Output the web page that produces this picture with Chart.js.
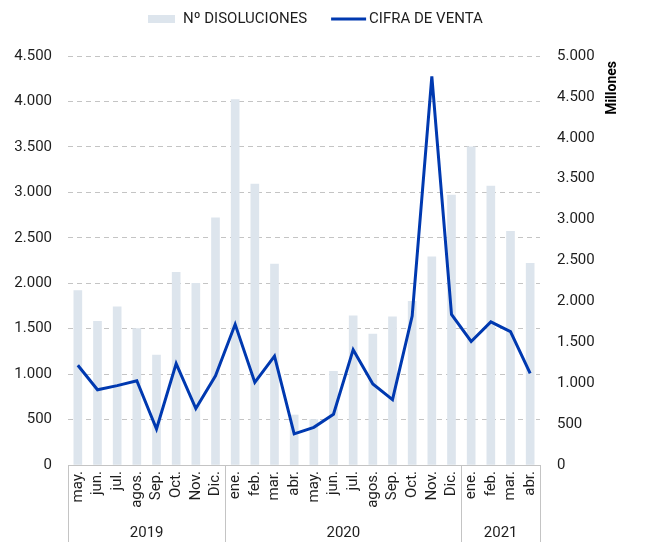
<!DOCTYPE html>
<html>
<head>
<meta charset="utf-8">
<script src="https://cdn.jsdelivr.net/npm/chart.js@4/dist/chart.umd.min.js"></script>
<style>
  html, body { margin: 0; padding: 0; background: #fff; }
  #wrap { width: 646px; height: 542px; }
</style>
</head>
<body>
<div id="wrap"><canvas id="chart" width="646" height="542"></canvas></div>
<script>
// months along the x axis, grouped by year
const months = ["may.", "jun.", "jul.", "agos.", "Sep.", "Oct.", "Nov.", "Dic.",
  "ene.", "feb.", "mar.", "abr.", "may.", "jun.", "jul.", "agos.", "Sep.", "Oct.", "Nov.", "Dic.",
  "ene.", "feb.", "mar.", "abr."];
const years = ["2019", "2020", "2021"];
const yearSpans = [8, 12, 4];

// Nº disoluciones (left axis)
const disoluciones = [1920, 1580, 1740, 1500, 1210, 2120, 2000, 2720,
  4020, 3090, 2210, 550, 500, 1030, 1640, 1440, 1630, 1800, 2290, 2970,
  3500, 3070, 2570, 2220];
// cifra de venta, millones (right axis)
const cifraVenta = [1220, 920, 970, 1030, 440, 1240, 690, 1090,
  1720, 1010, 1330, 380, 460, 620, 1410, 990, 800, 1820, 4750, 1840,
  1510, 1750, 1630, 1120];

const BAR_COLOR = "#dde5ed";
const LINE_COLOR = "#0039b0";
const TEXT = "#1e1e1e";
const FONT = "Roboto, 'Open Sans', sans-serif";

const fmt = v => String(v).replace(/\B(?=(\d{3})+(?!\d))/g, ".");

// year row under the month labels + custom legend + axis title
const extras = {
  id: "extras",
  afterDraw(chart) {
    const ctx = chart.ctx;
    const x = chart.scales.x;
    const area = chart.chartArea;
    const bottom = chart.height;
    ctx.save();
    ctx.strokeStyle = "#c4c4c4";
    ctx.lineWidth = 1;
    let start = 0;
    const edges = [area.left];
    yearSpans.forEach(n => {
      start += n;
      const px = start < months.length
        ? (x.getPixelForValue(start - 1) + x.getPixelForValue(start)) / 2
        : area.right;
      edges.push(px);
    });
    edges.forEach(px => {
      ctx.beginPath();
      ctx.moveTo(Math.round(px) + 0.5, area.bottom);
      ctx.lineTo(Math.round(px) + 0.5, bottom);
      ctx.stroke();
    });
    ctx.fillStyle = TEXT;
    ctx.font = "15px " + FONT;
    ctx.textAlign = "center";
    ctx.textBaseline = "middle";
    years.forEach((y, i) => {
      ctx.fillText(y, (edges[i] + edges[i + 1]) / 2, 533);
    });

    // legend
    ctx.textAlign = "left";
    let lx = 148;
    const ly = 19;
    ctx.fillStyle = BAR_COLOR;
    ctx.fillRect(lx, ly - 4, 27, 8);
    lx += 35;
    ctx.fillStyle = TEXT;
    ctx.fillText("Nº DISOLUCIONES", lx, ly);
    lx += ctx.measureText("Nº DISOLUCIONES").width + 24;
    ctx.strokeStyle = LINE_COLOR;
    ctx.lineWidth = 3;
    ctx.beginPath();
    ctx.moveTo(lx, ly);
    ctx.lineTo(lx + 35, ly);
    ctx.stroke();
    lx += 38;
    ctx.fillText("CIFRA DE VENTA", lx, ly);

    // right axis title
    ctx.translate(612, 61);
    ctx.rotate(-Math.PI / 2);
    ctx.font = "bold 14px " + FONT;
    ctx.textAlign = "right";
    ctx.fillStyle = "#000";
    ctx.fillText("Millones", 0, 0);
    ctx.restore();
  }
};

new Chart(document.getElementById("chart"), {
  type: "bar",
  data: {
    labels: months,
    datasets: [
      {
        type: "line",
        label: "CIFRA DE VENTA",
        data: cifraVenta,
        yAxisID: "y2",
        borderColor: LINE_COLOR,
        borderWidth: 3,
        pointRadius: 0,
        tension: 0,
        order: 0
      },
      {
        label: "Nº DISOLUCIONES",
        data: disoluciones,
        yAxisID: "y",
        backgroundColor: BAR_COLOR,
        barThickness: 8,
        order: 1
      }
    ]
  },
  options: {
    responsive: false,
    animation: false,
    layout: { padding: { top: 56, left: 0, right: 0, bottom: 0 } },
    plugins: {
      legend: { display: false },
      tooltip: { enabled: false }
    },
    scales: {
      x: {
        grid: { display: false, drawTicks: false },
        border: { display: true, color: "#c4c4c4" },
        ticks: {
          color: TEXT,
          font: { family: FONT, size: 15 },
          minRotation: 90,
          maxRotation: 90,
          autoSkip: false,
          padding: 6
        },
        afterFit(s) { s.height = 77; }
      },
      y: {
        position: "left",
        min: 0,
        max: 4500,
        grid: {
          drawTicks: false,
          color: c => c.tick.value === 0 ? "rgba(0,0,0,0)" : "#c4c4c4"
        },
        border: { display: false, dash: [5, 4] },
        ticks: {
          stepSize: 500,
          color: TEXT,
          font: { family: FONT, size: 15 },
          padding: 16,
          callback: v => fmt(v)
        },
        afterFit(s) { s.width = 68; }
      },
      y2: {
        position: "right",
        min: 0,
        max: 5000,
        grid: { display: false, drawTicks: false },
        border: { display: false },
        ticks: {
          stepSize: 500,
          color: TEXT,
          font: { family: FONT, size: 15 },
          padding: 17,
          callback: v => fmt(v)
        },
        afterFit(s) { s.width = 106; }
      }
    }
  },
  plugins: [extras]
});
</script>
</body>
</html>
